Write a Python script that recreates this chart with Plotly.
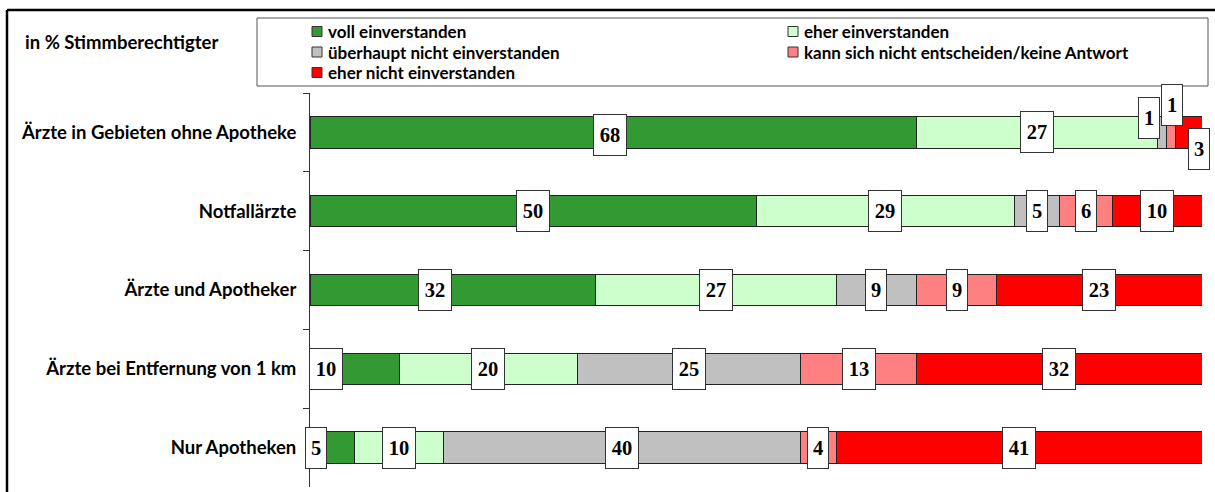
import plotly.graph_objects as go

# ---------------- data ----------------
categories = [
    "Ärzte in Gebieten ohne Apotheke",
    "Notfallärzte",
    "Ärzte und Apotheker",
    "Ärzte bei Entfernung von 1 km",
    "Nur Apotheken",
]
series_names = [
    "voll einverstanden",
    "eher einverstanden",
    "überhaupt nicht einverstanden",
    "kann sich nicht entscheiden/keine Antwort",
    "eher nicht einverstanden",
]
voll = [68, 50, 32, 10, 5]
eher = [27, 29, 27, 20, 10]
ueberhaupt_nicht = [1, 5, 9, 25, 40]
kann_nicht = [1, 6, 9, 13, 4]
eher_nicht = [3, 10, 23, 32, 41]
series_values = [voll, eher, ueberhaupt_nicht, kann_nicht, eher_nicht]
unit_title = "in % Stimmberechtigter"

# ---------------- style ----------------
colors = ["#339933", "#CCFFCC", "#C0C0C0", "#FF8080", "#FF0000"]
W, H = 1215, 492
ML, MR, MT, MB = 310, 13, 93, 5
PW, PH = W - ML - MR, H - MT - MB
SANS = "Lato, 'Open Sans', 'DejaVu Sans', sans-serif"
SERIF = "'Liberation Serif', 'DejaVu Serif', serif"
TXT = 18.5
LEG_TXT = 17

# label pixel offsets (row, series) -> (xshift, yshift)
label_offsets = {
    (0, 0): (-3, -3),
    (0, 2): (-13, 14),
    (0, 3): (1, 27),
    (0, 4): (10, -17),
    (2, 0): (-18, 0),
    (3, 0): (-29, 0),
    (4, 0): (-16, 0),
}


def px(x):
    return (x - ML) / PW


def py(y):
    return (H - MB - y) / PH


fig = go.Figure()
for name, vals, col in zip(series_names, series_values, colors):
    fig.add_trace(go.Bar(
        y=categories, x=vals, name=name, orientation="h",
        marker=dict(color=col, line=dict(color="#222222", width=1)),
        width=0.4, showlegend=False, hoverinfo="x+name",
    ))

annotations = []
for r, cat in enumerate(categories):
    cum = 0
    for s, vals in enumerate(series_values):
        v = vals[r]
        center = cum + v / 2
        cum += v
        xs, ys = label_offsets.get((r, s), (0, 0))
        txt = str(v)
        annotations.append(dict(
            x=center, y=cat, xref="x", yref="y", text="<b>%s</b>" % txt,
            showarrow=False, xshift=xs, yshift=ys,
            font=dict(family=SERIF, size=20.5, color="black"),
            bgcolor="white", bordercolor="#333333", borderwidth=1, borderpad=3,
            width=14 if len(txt) == 1 else 26, height=34,
            xanchor="center", yanchor="middle",
        ))

# unit title
annotations.append(dict(
    x=px(23), y=py(42), xref="paper", yref="paper", text="<b>%s</b>" % unit_title,
    showarrow=False, xanchor="left", yanchor="middle",
    font=dict(family=SANS, size=TXT, color="black"),
))

shapes = []
# outer frame (top and left visible)
shapes.append(dict(type="line", xref="paper", yref="paper", x0=px(7), x1=px(W + 20),
                   y0=py(10), y1=py(10), line=dict(color="black", width=2.5)))
shapes.append(dict(type="line", xref="paper", yref="paper", x0=px(7), x1=px(7),
                   y0=py(10), y1=py(H + 20), line=dict(color="black", width=2.5)))
# legend box
shapes.append(dict(type="rect", xref="paper", yref="paper", x0=px(257), x1=px(1208),
                   y0=py(18), y1=py(86), line=dict(color="#555555", width=1),
                   fillcolor="white", layer="below"))

leg_pos = [(312, 31.5), (788, 31.5), (312, 52), (788, 52), (312, 72.5)]
for (lx, ly), name, col in zip(leg_pos, series_names, colors):
    shapes.append(dict(type="rect", xref="paper", yref="paper",
                       x0=px(lx), x1=px(lx + 10), y0=py(ly - 5), y1=py(ly + 5),
                       fillcolor=col, line=dict(color="#333333", width=1)))
    annotations.append(dict(
        x=px(lx + 14), y=py(ly), xref="paper", yref="paper", text="<b>%s</b>" % name,
        showarrow=False, xanchor="left", yanchor="middle",
        font=dict(family=SANS, size=LEG_TXT, color="black"),
    ))

fig.update_layout(
    barmode="stack",
    width=W, height=H,
    margin=dict(l=ML, r=MR, t=MT, b=MB, pad=0),
    paper_bgcolor="white", plot_bgcolor="white",
    xaxis=dict(range=[0, 100], visible=False, showgrid=False, zeroline=False),
    yaxis=dict(
        autorange="reversed", showline=True, linecolor="#333333", linewidth=1,
        ticks="outside", tickson="boundaries", ticklen=6, tickcolor="#333333",
        ticklabelstandoff=9,
        tickfont=dict(family=SANS, size=TXT, color="black", weight="bold"),
        showgrid=False, zeroline=False,
    ),
    annotations=annotations,
    shapes=shapes,
)

fig.write_html(
    "out.html",
    config={"displayModeBar": False},
    post_script="document.body.style.margin='0';document.body.style.overflow='hidden';",
)
